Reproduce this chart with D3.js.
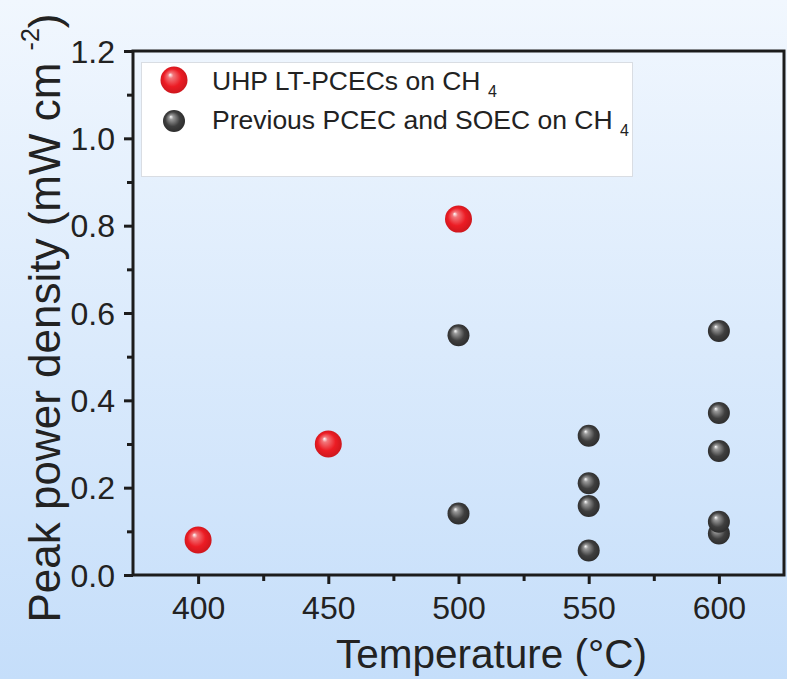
<!DOCTYPE html>
<meta charset="utf-8">

<style>
body {
  margin: 0;
}

text {
  font-family: Arial, "Liberation Sans", sans-serif;
  fill: #222;
}

.frame {
  fill: none;
  stroke: #1c1c1c;
  stroke-width: 3;
}

.axis line {
  stroke: #1c1c1c;
  stroke-width: 3;
}

.axis .domain {
  display: none;
}
</style>

<svg width="787" height="679"></svg>
<script src="https://d3js.org/d3.v7.min.js"></script>

<script>

// values
var redTemps = [400, 450, 500];
var redVals = [0.08, 0.30, 0.815];

var blackTemps = [500, 500, 550, 550, 550, 550, 600, 600, 600, 600, 600];
var blackVals = [0.549, 0.141, 0.319, 0.210, 0.158, 0.056, 0.559, 0.371, 0.284, 0.095, 0.122];

var xTicks = [400, 450, 500, 550, 600];
var xMinor = [425, 475, 525, 575];
var yTicks = [0, 0.2, 0.4, 0.6, 0.8, 1.0, 1.2];
var yMinor = [0.1, 0.3, 0.5, 0.7, 0.9, 1.1];

var legendLabels = ["UHP LT-PCECs on CH ", "Previous PCEC and SOEC on CH "];

var svg = d3.select("svg"),
    width = +svg.attr("width"),
    height = +svg.attr("height");

// plot box (window.top is taken, so other names)
var pLeft = 133, pRight = 784, pTop = 51, pBottom = 575;

var x = d3.scaleLinear().domain([375, 625]).range([pLeft, pRight]);
var y = d3.scaleLinear().domain([0, 1.2]).range([pBottom, pTop]);

var defs = svg.append("defs");

var bg = defs.append("linearGradient")
    .attr("id", "bg")
    .attr("x1", 0).attr("y1", 0).attr("x2", 0).attr("y2", 1);
bg.append("stop").attr("offset", "0%").attr("stop-color", "#f1f7fe");
bg.append("stop").attr("offset", "100%").attr("stop-color", "#c5defa");

function ball(id, light, mid, dark) {
  var g = defs.append("radialGradient")
      .attr("id", id)
      .attr("cx", "50%").attr("cy", "50%").attr("r", "55%")
      .attr("fx", "35%").attr("fy", "30%");
  g.append("stop").attr("offset", "0%").attr("stop-color", "#ffffff");
  g.append("stop").attr("offset", "18%").attr("stop-color", light);
  g.append("stop").attr("offset", "60%").attr("stop-color", mid);
  g.append("stop").attr("offset", "100%").attr("stop-color", dark);
}
ball("redBall", "#f2777b", "#ec1c24", "#c8161c");
ball("blackBall", "#9a9a9a", "#3f3f3f", "#2a2a2a");

svg.append("rect")
    .attr("width", width)
    .attr("height", height)
    .attr("fill", "url(#bg)");

// axes
var xAxis = svg.append("g")
    .attr("class", "axis")
    .attr("transform", "translate(0," + pBottom + ")")
    .call(d3.axisBottom(x).tickValues(xTicks).tickSize(9).tickFormat(d3.format("d")));
xAxis.selectAll("text")
    .attr("y", 44).attr("dy", 0)
    .attr("font-size", "32px")
    .attr("fill", "#222");

svg.append("g")
    .attr("class", "axis")
    .attr("transform", "translate(0," + pBottom + ")")
    .call(d3.axisBottom(x).tickValues(xMinor).tickSize(6).tickFormat(""));

var yAxis = svg.append("g")
    .attr("class", "axis")
    .attr("transform", "translate(" + pLeft + ",0)")
    .call(d3.axisLeft(y).tickValues(yTicks).tickSize(9).tickFormat(d3.format(".1f")));
yAxis.selectAll("text")
    .attr("x", -18)
    .attr("dy", "0.35em")
    .attr("font-size", "32px")
    .attr("fill", "#222");

svg.append("g")
    .attr("class", "axis")
    .attr("transform", "translate(" + pLeft + ",0)")
    .call(d3.axisLeft(y).tickValues(yMinor).tickSize(6).tickFormat(""));

svg.append("rect")
    .attr("class", "frame")
    .attr("x", pLeft)
    .attr("y", pTop)
    .attr("width", pRight - pLeft)
    .attr("height", pBottom - pTop);

// legend
svg.append("rect")
    .attr("x", 141.5)
    .attr("y", 62.5)
    .attr("width", 491)
    .attr("height", 114)
    .attr("fill", "#fff")
    .attr("stroke", "#d9dde3");

var legend = svg.selectAll(".legend").data(legendLabels)
  .enter().append("g").attr("class", "legend");

legend.append("circle")
    .attr("cx", 174)
    .attr("cy", function(d, i) { return i == 0 ? 80 : 121; })
    .attr("r", function(d, i) { return i == 0 ? 13.5 : 11; })
    .attr("fill", function(d, i) { return i == 0 ? "url(#redBall)" : "url(#blackBall)"; });

var lt = legend.append("text")
    .attr("x", 212)
    .attr("y", function(d, i) { return 90 + 39 * i; })
    .attr("font-size", "26.5px");
lt.append("tspan").text(function(d) { return d; });
lt.append("tspan")
    .attr("dy", 7)
    .attr("font-size", "16px")
    .text("4");

// points
svg.append("g").selectAll("circle")
    .data(d3.range(blackTemps.length))
  .enter().append("circle")
    .attr("cx", function(i) { return x(blackTemps[i]); })
    .attr("cy", function(i) { return y(blackVals[i]); })
    .attr("r", 11)
    .attr("fill", "url(#blackBall)");

svg.append("g").selectAll("circle")
    .data(d3.range(redTemps.length))
  .enter().append("circle")
    .attr("cx", function(i) { return x(redTemps[i]); })
    .attr("cy", function(i) { return y(redVals[i]); })
    .attr("r", 13.5)
    .attr("fill", "url(#redBall)");

// axis titles
svg.append("text")
    .attr("x", 336)
    .attr("y", 668)
    .attr("font-size", "40.5px")
    .text("Temperature (\u00B0C)");

var yt = svg.append("text")
    .attr("transform", "translate(60,318) rotate(-90)")
    .attr("text-anchor", "middle")
    .attr("font-size", "44px");
yt.append("tspan").text("Peak power density (mW cm ");
yt.append("tspan").attr("dy", -21).attr("font-size", "25px").text("-2");
yt.append("tspan").attr("dy", 21).text(")");

</script>
